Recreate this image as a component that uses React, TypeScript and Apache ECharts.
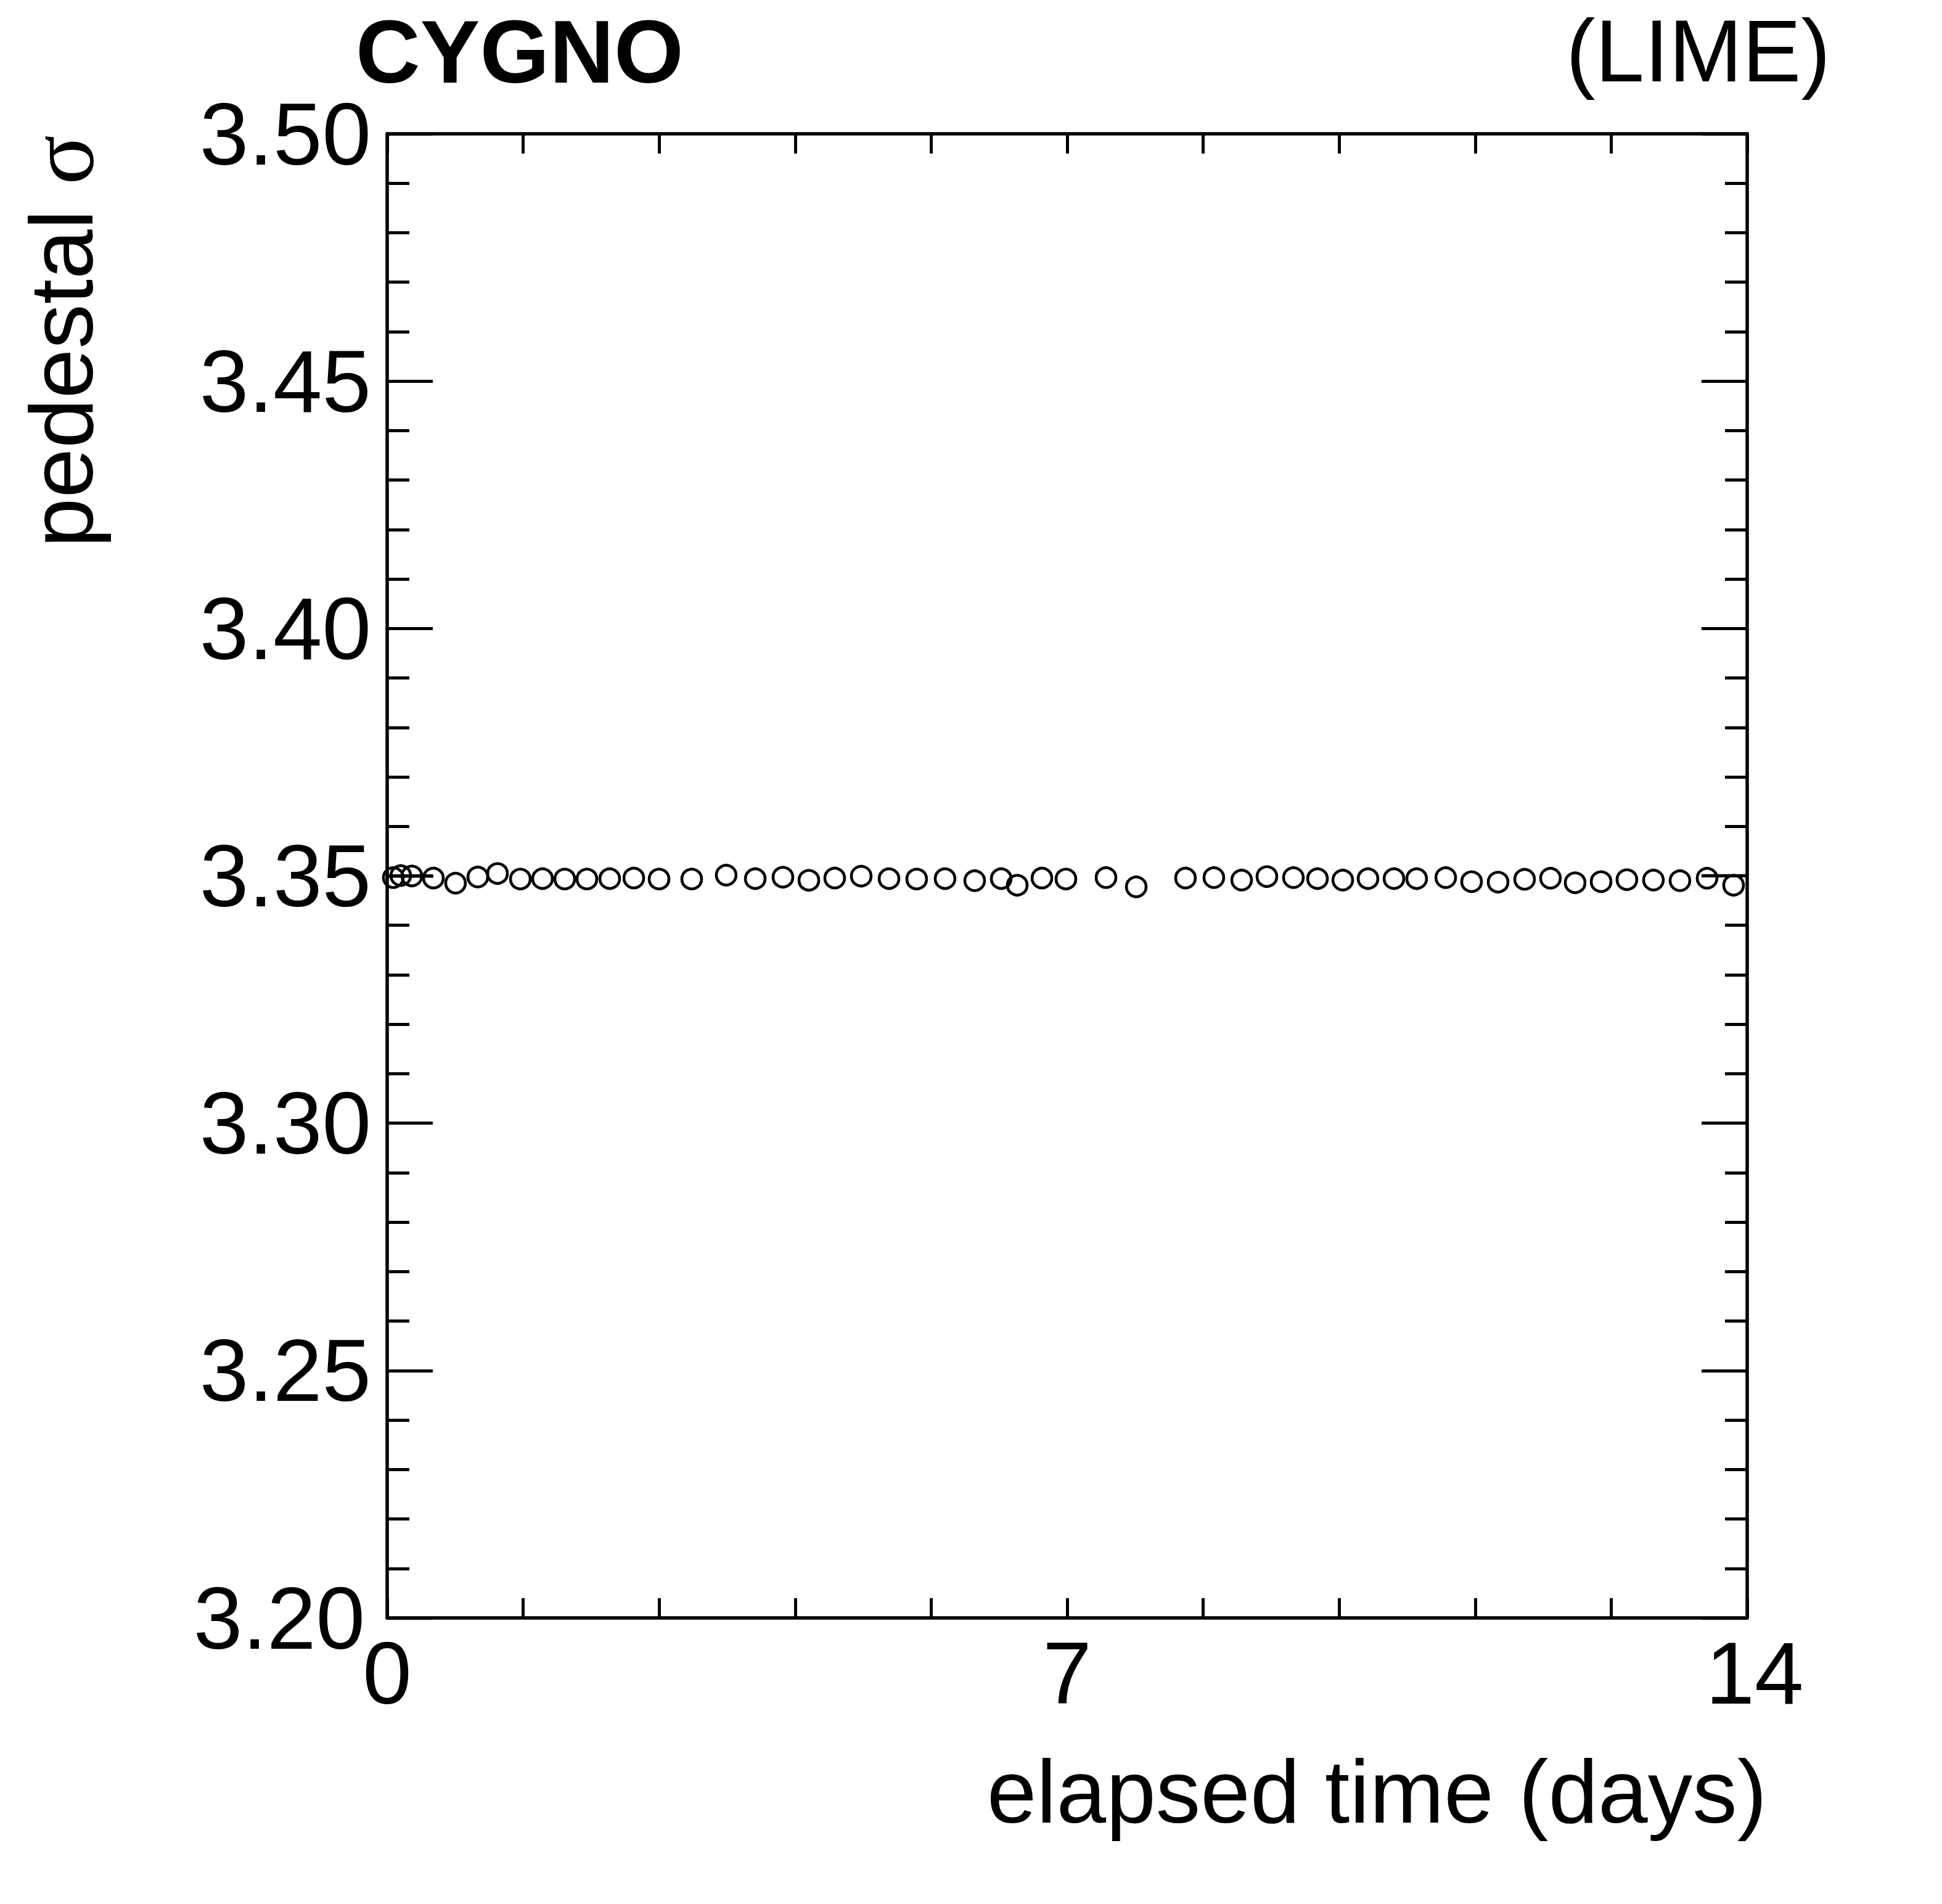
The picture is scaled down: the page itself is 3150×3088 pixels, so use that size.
import React, { useEffect, useRef } from "react";
import * as echarts from "echarts";

// elapsed time (days) of each measurement
const elapsedDays = [
  0.063, 0.14, 0.254, 0.476, 0.704, 0.933, 1.136, 1.371, 1.599, 1.828,
  2.056, 2.291, 2.539, 2.799, 3.135, 3.49, 3.789, 4.074, 4.341, 4.607,
  4.88, 5.166, 5.451, 5.743, 6.048, 6.321, 6.486, 6.74, 6.987, 7.4,
  7.711, 8.218, 8.51, 8.796, 9.056, 9.329, 9.577, 9.837, 10.097, 10.364,
  10.598, 10.897, 11.163, 11.436, 11.709, 11.975, 12.229, 12.496, 12.762, 13.035,
  13.308, 13.587, 13.86,
];

// pedestal sigma of each measurement
const pedestalSigma = [
  3.34965, 3.35006, 3.34998, 3.34956, 3.34853, 3.34977, 3.35048, 3.34936, 3.34944, 3.34936,
  3.34936, 3.34944, 3.34956, 3.34936, 3.34936, 3.35015, 3.34944, 3.34973, 3.34911, 3.34956,
  3.34994, 3.34944, 3.34936, 3.34944, 3.34902, 3.34944, 3.34811, 3.34956, 3.34936, 3.34965,
  3.34778, 3.34956, 3.34965, 3.34915, 3.34985, 3.34965, 3.34944, 3.34915, 3.34944, 3.34944,
  3.34944, 3.34965, 3.34882, 3.34873, 3.34931, 3.34952, 3.34861, 3.34882, 3.34923, 3.34915,
  3.34902, 3.34952, 3.34811,
];

// horizontal error segments visible at the two ends
const leftErrX = [0, 0.476];
const leftErrY = [3.3499, 3.3499];
const rightErrX = [13.53, 14];
const rightErrY = [3.35006, 3.35006];

const xTickLabels = ["0", "7", "14"];
const yTickLabels = ["3.20", "3.25", "3.30", "3.35", "3.40", "3.45", "3.50"];

const FONT = "'Liberation Sans', Arimo, Helvetica, Arial, sans-serif";

export default function App() {
  const ref = useRef<HTMLDivElement>(null);

  useEffect(() => {
    const chart = echarts.init(ref.current!, null, { renderer: "svg" });

    const xLabelFmt = (v: number) => {
      const hit = xTickLabels.find((l) => Math.abs(Number(l) - v) < 1e-6);
      if (hit === undefined) return "";
      return hit === "14" ? "{r|14}" : hit;
    };
    const yLabelFmt = (v: number) => {
      const hit = yTickLabels.find((l) => Math.abs(Number(l) - v) < 1e-6);
      if (hit === undefined) return "";
      return hit === yTickLabels[0] ? "{s|" + hit + "}" : hit;
    };

    const axisLine = { show: true, onZero: false, lineStyle: { color: "#000", width: 5.5 } };
    const tickStyle = { color: "#000", width: 5 };

    const xBase = {
      type: "value" as const,
      min: 0,
      max: 14,
      interval: 1.4,
      axisLine,
      axisTick: { show: true, inside: true, length: 32, lineStyle: tickStyle },
      splitLine: { show: false },
    };
    const yBase = {
      type: "value" as const,
      min: 3.2,
      max: 3.5,
      interval: 0.05,
      axisLine,
      axisTick: { show: true, inside: true, length: 74, lineStyle: tickStyle },
      splitLine: { show: false },
    };
    const yMinor = {
      type: "value" as const,
      min: 3.2,
      max: 3.5,
      interval: 0.01,
      axisLine: { show: false, onZero: false },
      axisLabel: { show: false },
      axisTick: { show: true, inside: true, length: 36, lineStyle: tickStyle },
      splitLine: { show: false },
    };

    const points = elapsedDays.map((x, i) => [x, pedestalSigma[i]]);
    const labelFont = { fontSize: 143, fontFamily: FONT, color: "#000" };

    chart.setOption({
      animation: false,
      backgroundColor: "#fff",
      grid: { left: 628, top: 217, right: 316, bottom: 464, containLabel: false },
      xAxis: [
        {
          ...xBase,
          position: "bottom",
          axisLabel: {
            show: true,
            formatter: xLabelFmt,
            ...labelFont,
            margin: 18,
            showMinLabel: true,
            showMaxLabel: true,
            rich: { r: { ...labelFont, padding: [0, 0, 0, 24] } },
          },
        },
        { ...xBase, position: "top", axisLabel: { show: false } },
      ],
      yAxis: [
        {
          ...yBase,
          position: "left",
          axisLabel: {
            show: true,
            formatter: yLabelFmt,
            ...labelFont,
            margin: 26,
            showMinLabel: true,
            showMaxLabel: true,
            rich: { s: { ...labelFont, padding: [0, 10, 0, 0] } },
          },
        },
        { ...yBase, position: "right", axisLabel: { show: false } },
        { ...yMinor, position: "left" },
        { ...yMinor, position: "right" },
      ],
      series: [
        {
          type: "custom",
          xAxisIndex: 0,
          yAxisIndex: 0,
          data: points,
          encode: { x: 0, y: 1 },
          clip: false,
          z: 3,
          renderItem: (params: any, api: any) => {
            const c = api.coord([api.value(0), api.value(1)]);
            return {
              type: "circle",
              shape: { cx: c[0], cy: c[1], r: 16 },
              style: { fill: "none", stroke: "#000", lineWidth: 4.6 },
            };
          },
        },
        {
          type: "line",
          xAxisIndex: 0,
          yAxisIndex: 0,
          data: leftErrX.map((x, i) => [x, leftErrY[i]]),
          symbol: "none",
          lineStyle: { color: "#000", width: 4.5 },
          z: 2,
        },
        {
          type: "line",
          xAxisIndex: 0,
          yAxisIndex: 0,
          data: rightErrX.map((x, i) => [x, rightErrY[i]]),
          symbol: "none",
          lineStyle: { color: "#000", width: 4.5 },
          z: 2,
        },
      ],
      graphic: [
        {
          type: "text",
          x: 577,
          y: 84,
          style: {
            text: "CYGNO",
            fontSize: 145,
            fontWeight: "bold",
            fontFamily: FONT,
            fill: "#000",
            align: "left",
            verticalAlign: "middle",
          },
        },
        {
          type: "text",
          x: 2969,
          y: 82,
          style: {
            text: "(LIME)",
            fontSize: 143,
            lineHeight: 143,
            fontFamily: FONT,
            fill: "#000",
            align: "right",
            verticalAlign: "middle",
          },
        },
        {
          type: "text",
          x: 2866,
          y: 2906,
          style: {
            text: "elapsed time (days)",
            fontSize: 145,
            fontFamily: FONT,
            fill: "#000",
            align: "right",
            verticalAlign: "middle",
          },
        },
        {
          type: "text",
          x: 100,
          y: 219,
          rotation: Math.PI / 2,
          style: {
            text: "{a|pedestal }{b|σ}",
            align: "right",
            verticalAlign: "middle",
            fill: "#000",
            rich: {
              a: { fontSize: 145, fontFamily: FONT, fill: "#000" },
              b: { fontSize: 150, fontFamily: "'Liberation Serif', 'DejaVu Serif', serif", fill: "#000" },
            },
          },
        },
      ],
    });

    return () => chart.dispose();
  }, []);

  return (
    <div
      ref={ref}
      style={{ position: "fixed", left: 0, top: 0, width: 3150, height: 3088, background: "#fff" }}
    />
  );
}
